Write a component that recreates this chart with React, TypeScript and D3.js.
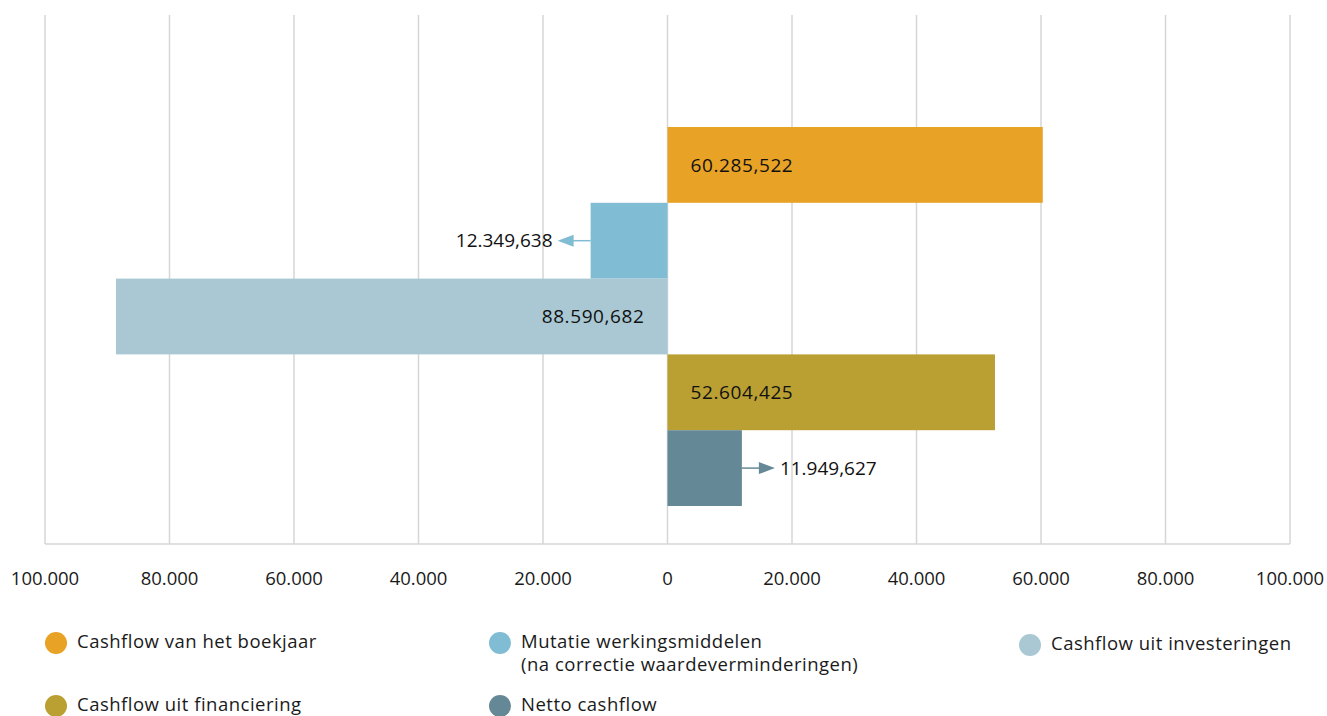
import React, { useEffect, useRef } from 'react';
import * as d3 from 'd3';

const categories = [
  'Cashflow van het boekjaar',
  'Mutatie werkingsmiddelen (na correctie waardeverminderingen)',
  'Cashflow uit investeringen',
  'Cashflow uit financiering',
  'Netto cashflow',
];
const values = [60285.522, -12349.638, -88590.682, 52604.425, 11949.627];
const colors = ['#E8A225', '#80BCD3', '#A9C8D3', '#BA9F32', '#658896'];
const tickValues = [-100000, -80000, -60000, -40000, -20000, 0, 20000, 40000, 60000, 80000, 100000];

const legendLines = [
  ['Cashflow van het boekjaar'],
  ['Mutatie werkingsmiddelen', '(na correctie waardeverminderingen)'],
  ['Cashflow uit investeringen'],
  ['Cashflow uit financiering'],
  ['Netto cashflow'],
];

const W = 1327;
const H = 716;
const FONT = "'Open Sans', 'Noto Sans', sans-serif";

const nl = d3.formatLocale({ decimal: ',', thousands: '.', grouping: [3], currency: ['€', ''] });
const fmtValue = nl.format(',.3f');
const fmtTick = nl.format(',.0f');

const App: React.FC = () => {
  const svgRef = useRef<SVGSVGElement>(null);

  useEffect(() => {
    const svg = d3.select(svgRef.current);
    svg.selectAll('*').remove();

    const x = d3.scaleLinear().domain([-100000, 100000]).range([45, 1290]);
    const y = d3.scaleBand().domain(categories).range([127, 506]).padding(0);
    const gridTop = 15;
    const gridBottom = 544;

    // gridlines
    svg.append('g')
      .selectAll('line')
      .data(tickValues)
      .enter()
      .append('line')
      .attr('x1', d => x(d))
      .attr('x2', d => x(d))
      .attr('y1', gridTop)
      .attr('y2', gridBottom)
      .attr('stroke', '#d6d6d6')
      .attr('stroke-width', 1.5);

    svg.append('line')
      .attr('x1', x(-100000))
      .attr('x2', x(100000))
      .attr('y1', gridBottom)
      .attr('y2', gridBottom)
      .attr('stroke', '#d6d6d6')
      .attr('stroke-width', 1.5);

    // tick labels
    svg.append('g')
      .selectAll('text')
      .data(tickValues)
      .enter()
      .append('text')
      .attr('x', d => x(d))
      .attr('y', 585)
      .attr('text-anchor', 'middle')
      .style('font-family', FONT)
      .style('font-size', '18.5px')
      .attr('fill', '#1a1a1a')
      .text(d => fmtTick(Math.abs(d)));

    // bars
    const data = categories.map((c, i) => ({ cat: c, value: values[i], color: colors[i] }));
    svg.append('g')
      .selectAll('rect')
      .data(data)
      .enter()
      .append('rect')
      .attr('x', d => x(Math.min(0, d.value)))
      .attr('y', d => y(d.cat) as number)
      .attr('width', d => Math.abs(x(d.value) - x(0)))
      .attr('height', y.bandwidth())
      .attr('fill', d => d.color);

    // value labels
    const labelG = svg.append('g');
    data.forEach(d => {
      const cy = (y(d.cat) as number) + y.bandwidth() / 2;
      const barLen = Math.abs(x(d.value) - x(0));
      const text = fmtValue(Math.abs(d.value));
      if (barLen > 150) {
        const inside = d.value > 0
          ? { tx: x(0) + 23, anchor: 'start' }
          : { tx: x(0) - 23, anchor: 'end' };
        labelG.append('text')
          .attr('x', inside.tx)
          .attr('y', cy)
          .attr('dy', '0.35em')
          .attr('text-anchor', inside.anchor)
          .style('font-family', FONT)
          .style('font-size', '19px')
          .style('letter-spacing', '0.6px')
          .attr('fill', '#111')
          .text(text);
      } else {
        const dir = d.value > 0 ? 1 : -1;
        const end = x(d.value);
        const tip = end + dir * 33;
        labelG.append('line')
          .attr('x1', end)
          .attr('x2', tip - dir * 12)
          .attr('y1', cy)
          .attr('y2', cy)
          .attr('stroke', d.color)
          .attr('stroke-width', 1.5);
        labelG.append('path')
          .attr('d', `M${tip},${cy} L${tip - dir * 16},${cy - 6} L${tip - dir * 16},${cy + 6} Z`)
          .attr('fill', d.color);
        labelG.append('text')
          .attr('x', tip + dir * 5)
          .attr('y', cy)
          .attr('dy', '0.35em')
          .attr('text-anchor', dir > 0 ? 'start' : 'end')
          .style('font-family', FONT)
          .style('font-size', '19px')
          .attr('fill', '#111')
          .text(text);
      }
    });

    // legend
    const legendPos = [
      { x: 56, y: 643 },
      { x: 500, y: 643 },
      { x: 1030, y: 645 },
      { x: 56, y: 706 },
      { x: 500, y: 706 },
    ];
    const legend = svg.append('g');
    legendLines.forEach((lines, i) => {
      const p = legendPos[i];
      const g = legend.append('g').attr('transform', `translate(${p.x},${p.y})`);
      g.append('circle').attr('r', 11).attr('fill', colors[i]);
      lines.forEach((ln, j) => {
        g.append('text')
          .attr('x', 21)
          .attr('y', j * 23 - 1)
          .attr('dy', '0.35em')
          .style('font-family', FONT)
          .style('font-size', '18.5px')
          .style('letter-spacing', '0.5px')
          .attr('fill', '#1a1a1a')
          .text(ln);
      });
    });
  }, []);

  return (
    <svg
      ref={svgRef}
      width={W}
      height={H}
      style={{ position: 'absolute', left: 0, top: 0, background: '#fff' }}
    />
  );
};

export default App;
